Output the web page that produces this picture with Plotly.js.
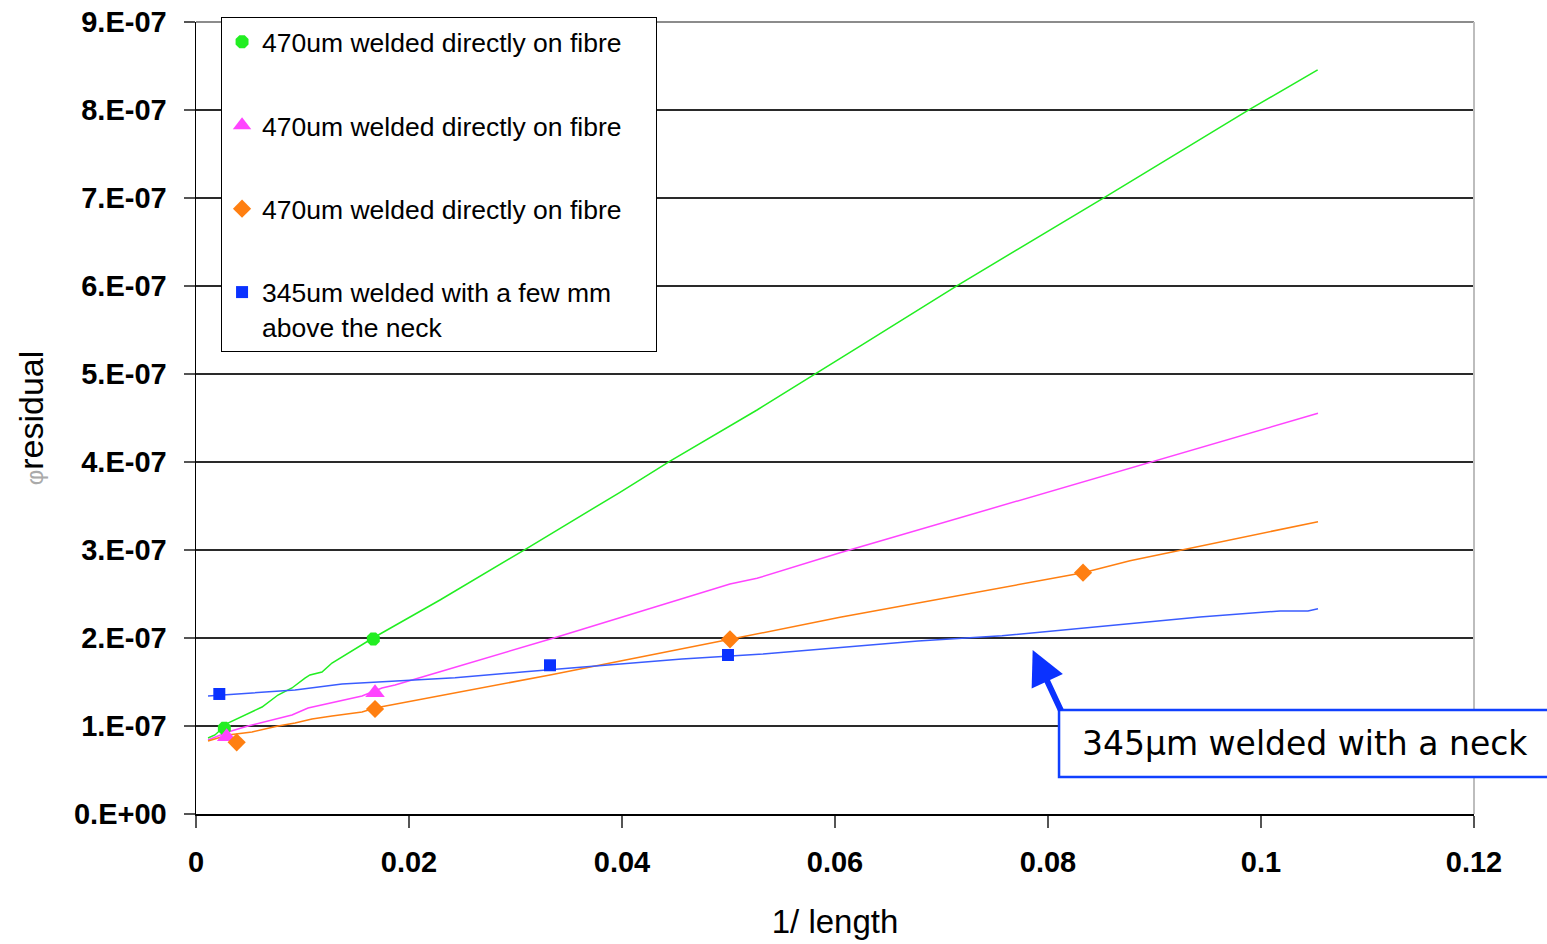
<!DOCTYPE html>
<html>
<head>
<meta charset="utf-8">
<script src="https://cdn.plot.ly/plotly-3.0.1.min.js"></script>
<style>html,body{margin:0;padding:0;background:#fff;}</style>
</head>
<body>
<div id="chart" style="width:1547px;height:944px;"></div>
<script>
// ---- data ----
const seriesNames = [
  "470um welded directly on fibre",
  "470um welded directly on fibre",
  "470um welded directly on fibre",
  "345um welded with a few mm<br>above the neck"
];

// measured points (markers)
const greenPtsX = [0.00266, 0.01665];
const greenPtsY = [0.974e-7, 1.989e-7];
const magentaPtsX = [0.00288, 0.01681];
const magentaPtsY = [0.878e-7, 1.378e-7];
const orangePtsX = [0.00382, 0.01681, 0.05014, 0.08329];
const orangePtsY = [0.815e-7, 1.193e-7, 1.985e-7, 2.742e-7];
const bluePtsX = [0.00219, 0.03324, 0.04995];
const bluePtsY = [1.364e-7, 1.690e-7, 1.807e-7];

// fitted curves
const greenLineX = [0.00113,0.00178,0.00300,0.00460,0.00620,0.00770,0.00901,0.01023,0.01070,0.01183,0.01277,0.01662,0.02291,0.03108,0.03981,0.04451,0.05268,0.06235,0.07155,0.08535,0.09897,0.10532];
const greenLineY = [0.864e-7,0.898e-7,1.034e-7,1.125e-7,1.216e-7,1.352e-7,1.432e-7,1.545e-7,1.580e-7,1.614e-7,1.716e-7,2.000e-7,2.432e-7,3.019e-7,3.656e-7,4.011e-7,4.591e-7,5.318e-7,6.011e-7,7.010e-7,8.010e-7,8.455e-7];

const magentaLineX = [0.00113,0.00300,0.00488,0.00714,0.00901,0.01052,0.01305,0.01559,0.01746,0.01869,0.02291,0.03352,0.05014,0.05268,0.06047,0.09005,0.10535];
const magentaLineY = [0.841e-7,0.932e-7,1.000e-7,1.068e-7,1.125e-7,1.205e-7,1.273e-7,1.341e-7,1.432e-7,1.466e-7,1.617e-7,1.997e-7,2.614e-7,2.678e-7,2.969e-7,4.014e-7,4.553e-7];

const orangeLineX = [0.00113,0.00300,0.00526,0.00770,0.00930,0.01089,0.01277,0.01559,0.01681,0.02291,0.03324,0.05014,0.06047,0.08329,0.08770,0.10535];
const orangeLineY = [0.830e-7,0.898e-7,0.932e-7,1.000e-7,1.034e-7,1.080e-7,1.114e-7,1.159e-7,1.205e-7,1.341e-7,1.580e-7,1.985e-7,2.235e-7,2.742e-7,2.878e-7,3.322e-7];

const blueLineX = [0.00113,0.00507,0.00930,0.01371,0.02028,0.02432,0.03089,0.03822,0.04563,0.05324,0.06047,0.06779,0.07568,0.08207,0.08770,0.09427,0.10178,0.10441,0.10535];
const blueLineY = [1.341e-7,1.375e-7,1.409e-7,1.477e-7,1.523e-7,1.549e-7,1.617e-7,1.685e-7,1.761e-7,1.818e-7,1.890e-7,1.966e-7,2.026e-7,2.099e-7,2.167e-7,2.239e-7,2.307e-7,2.307e-7,2.333e-7];

const xTickVals = [0, 0.02, 0.04, 0.06, 0.08, 0.1, 0.12];
const xTickText = ["0", "0.02", "0.04", "0.06", "0.08", "0.1", "0.12"];
const yTickVals = [0, 1e-7, 2e-7, 3e-7, 4e-7, 5e-7, 6e-7, 7e-7, 8e-7, 9e-7];
const yTickText = ["0.E+00","1.E-07","2.E-07","3.E-07","4.E-07","5.E-07","6.E-07","7.E-07","8.E-07","9.E-07"];

const xTitle = "1/ length";
const yTitle = "residual";
const calloutText = "345μm welded with a neck";
const calloutTarget = {x: 0.07856, y: 1.864e-7};

// ---- styles ----
const ARIAL = 'Arial, "Liberation Sans", sans-serif';
const cGreen = '#22ee22', cMag = '#ff44ff', cOrange = '#ff7f11', cBlue = '#0a32ff', cBlueLine = '#3a5cff';
const PAD = '\u00a0\u00a0\u00a0\u00a0';

function lineTrace(x, y, color, grp) {
  return {x: x, y: y, type: 'scatter', mode: 'lines', line: {color: color, width: 1.5},
          showlegend: false, legendgroup: grp, hoverinfo: 'skip'};
}
function ptTrace(x, y, color, symbol, size, name, grp) {
  return {x: x, y: y, type: 'scatter', mode: 'markers', name: name, legendgroup: grp,
          marker: {color: color, symbol: symbol, size: size, line: {width: 0}}};
}

const data = [
  lineTrace(greenLineX, greenLineY, cGreen, 'g1'),
  lineTrace(magentaLineX, magentaLineY, cMag, 'g2'),
  lineTrace(orangeLineX, orangeLineY, cOrange, 'g3'),
  lineTrace(blueLineX, blueLineY, cBlueLine, 'g4'),
  ptTrace(greenPtsX, greenPtsY, cGreen, 'octagon', 14, seriesNames[0] + PAD, 'g1'),
  ptTrace(magentaPtsX, magentaPtsY, cMag, 'triangle-up', 17, seriesNames[1], 'g2'),
  ptTrace(orangePtsX, orangePtsY, cOrange, 'diamond', 14, seriesNames[2], 'g3'),
  ptTrace(bluePtsX, bluePtsY, cBlue, 'square', 12, seriesNames[3], 'g4')
];

const layout = {
  width: 1547, height: 944,
  margin: {l: 196, r: 73, t: 22, b: 130},
  paper_bgcolor: '#fff', plot_bgcolor: '#fff',
  font: {family: ARIAL, color: '#000'},
  showlegend: true,
  xaxis: {
    range: [0, 0.12], tickmode: 'array', tickvals: xTickVals, ticktext: xTickText,
    ticks: 'outside', ticklen: 12, tickcolor: '#555', tickwidth: 1.3,
    showline: true, linecolor: '#000', linewidth: 1.5,
    showgrid: false, zeroline: false,
    tickfont: {family: ARIAL, size: 29, weight: 'bold', color: '#000'},
    ticklabelstandoff: 10,
    title: {text: xTitle, font: {family: ARIAL, size: 33, color: '#000'}, standoff: 32},
    automargin: false, fixedrange: true
  },
  yaxis: {
    range: [0, 9e-7], tickmode: 'array', tickvals: yTickVals, ticktext: yTickText,
    ticks: 'outside', ticklen: 11, tickcolor: '#555', tickwidth: 1.3,
    showline: true, linecolor: '#000', linewidth: 1.5,
    showgrid: true, gridcolor: '#2a2a2a', gridwidth: 1.3, zeroline: false,
    tickfont: {family: ARIAL, size: 29, weight: 'bold', color: '#000'},
    ticklabelstandoff: 11,
    title: {text: '<span style="color:#aaaaaa;font-size:24px">φ</span>' + yTitle,
            font: {family: ARIAL, size: 34, color: '#000'}, standoff: 20},
    automargin: false, fixedrange: true
  },
  legend: {
    x: 0.0196, y: 1.0063, xanchor: 'left', yanchor: 'top',
    bgcolor: '#fff', bordercolor: '#000', borderwidth: 1,
    font: {family: ARIAL, size: 26.5, color: '#000'},
    traceorder: 'grouped', tracegroupgap: 46, valign: 'top'
  },
  shapes: [
    {type: 'line', xref: 'paper', yref: 'paper', x0: 0, x1: 1, y0: 1, y1: 1,
     line: {color: '#8c8c8c', width: 2}, layer: 'above'},
    {type: 'line', xref: 'paper', yref: 'paper', x0: 1, x1: 1, y0: 0, y1: 1,
     line: {color: '#bdbdbd', width: 2}, layer: 'above'},
    {type: 'rect', xref: 'paper', yref: 'paper', x0: 0.6753, x1: 1.12, y0: 0.0467, y1: 0.1313,
     line: {color: '#1040ff', width: 2.5}, fillcolor: '#fff', layer: 'above'}
  ],
  annotations: [
    {x: calloutTarget.x, y: calloutTarget.y, xref: 'x', yref: 'y', text: '',
     showarrow: true, ax: 29, ay: 62, arrowhead: 2, arrowsize: 1.15, arrowwidth: 6,
     arrowcolor: '#0b32ff', standoff: 0, startstandoff: 0},
    {x: 0.6917, y: 0.0896, xref: 'paper', yref: 'paper', xanchor: 'left', yanchor: 'middle',
     text: calloutText, showarrow: false,
     font: {family: '"DejaVu Sans", Verdana, sans-serif', size: 33, color: '#000'}}
  ]
};

Plotly.newPlot('chart', data, layout, {displayModeBar: false, staticPlot: true});
</script>
</body>
</html>
